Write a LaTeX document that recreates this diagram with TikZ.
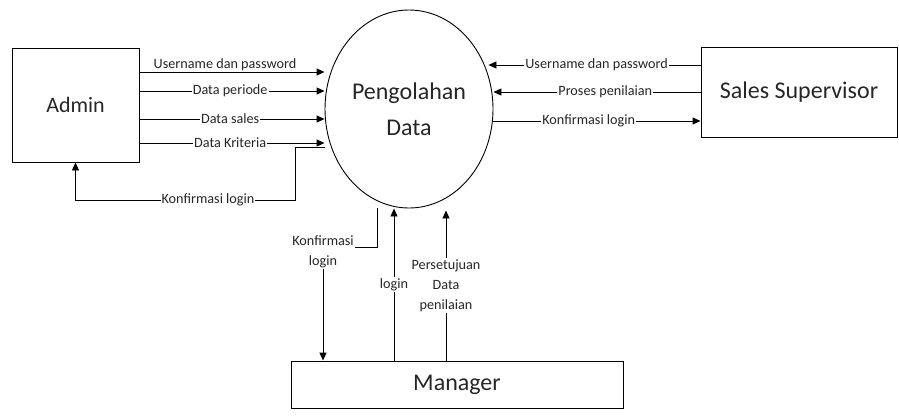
\documentclass[tikz,border=0pt]{standalone}
\usepackage{fontspec}
\setmainfont{Carlito}
\usetikzlibrary{shapes.geometric,arrows.meta,calc}
\begin{document}
\begin{tikzpicture}[x=1pt,y=-1pt,
  line width=0.9pt,
  arr/.style={-{Triangle[length=8pt,width=7pt]}},
  ent/.style={draw,rectangle,inner sep=0pt,font=\fontsize{24}{28}\selectfont,text=black!85},
  lbl/.style={fill=white,inner sep=1pt,font=\fontsize{14.2}{20}\selectfont,text=black!85,align=center}]
\useasboundingbox (0,0) rectangle (899,418);
\node[ent,minimum width=127pt,minimum height=114pt,font=\fontsize{22}{26}\selectfont] (admin) at (75.5,105) {Admin};
\node[ent,minimum width=196pt,minimum height=90pt] (ss) at (799,92) {Sales Supervisor};
\node[ent,minimum width=332pt,minimum height=47pt] (mgr) at (457,384.5) {Manager};
\node[draw,ellipse,inner sep=0pt,minimum width=168pt,minimum height=198pt,align=center,
  font=\fontsize{24}{36}\selectfont,text=black!85] (pd) at (409,109) {Pengolahan\\Data};
% helper coordinates
\coordinate (y65) at (0,65);
\coordinate (y72) at (0,72);
\coordinate (y91) at (0,91);
\coordinate (y92) at (0,92);
\coordinate (y119) at (0,119);
\coordinate (y121) at (0,121);
\coordinate (y143) at (0,143);
\coordinate (y147) at (0,147);
\coordinate (x323) at (323,0);
\coordinate (x377) at (377,0);
\coordinate (x394) at (394,0);
\coordinate (x446) at (446,0);
% Admin -> process
\draw[arr] (admin.east |- y72) -- (pd.west |- y72);
\node[lbl] (l1) at (225,65) {Username dan password};
\draw[arr] (admin.east |- y91) -- (pd.west |- y91) node[lbl,pos=0.49] (l2) {Data periode};
\draw[arr] (admin.east |- y119) -- (pd.west |- y119) node[lbl,pos=0.49] (l3) {Data sales};
\draw[arr] (admin.east |- y143) -- (pd.west |- y143) node[lbl,pos=0.49] (l4) {Data Kriteria};
\draw[arr] (pd.west |- y147) -| (295,200) -| (admin.south);
\node[lbl] (l5) at (208,200) {Konfirmasi login};
% Sales Supervisor
\draw[arr] (ss.west |- y65) -- ($(pd.east |- y65)+(-5,0)$) node[lbl,pos=0.49] (r1) {Username dan password};
\draw[arr] (ss.west |- y92) -- (pd.east |- y92) node[lbl,pos=0.46] (r2) {Proses penilaian};
\draw[arr] (pd.east |- y121) -- (ss.west |- y121) node[lbl,pos=0.46] (r3) {Konfirmasi login};
% Manager
\draw[arr] (x377 |- pd.south) -- (377,247) -- (323,247) -- (x323 |- mgr.north);
\node[lbl] (b1) at (323,252) {Konfirmasi\\login};
\draw[arr] (x394 |- mgr.north) -- (x394 |- pd.south) node[lbl,pos=0.5] (b2) {login};
\draw[arr] (x446 |- mgr.north) -- ($(x446 |- pd.south)+(0,2)$) node[lbl,pos=0.5] (b3) {Persetujuan\\Data\\penilaian};
\end{tikzpicture}
\end{document}
